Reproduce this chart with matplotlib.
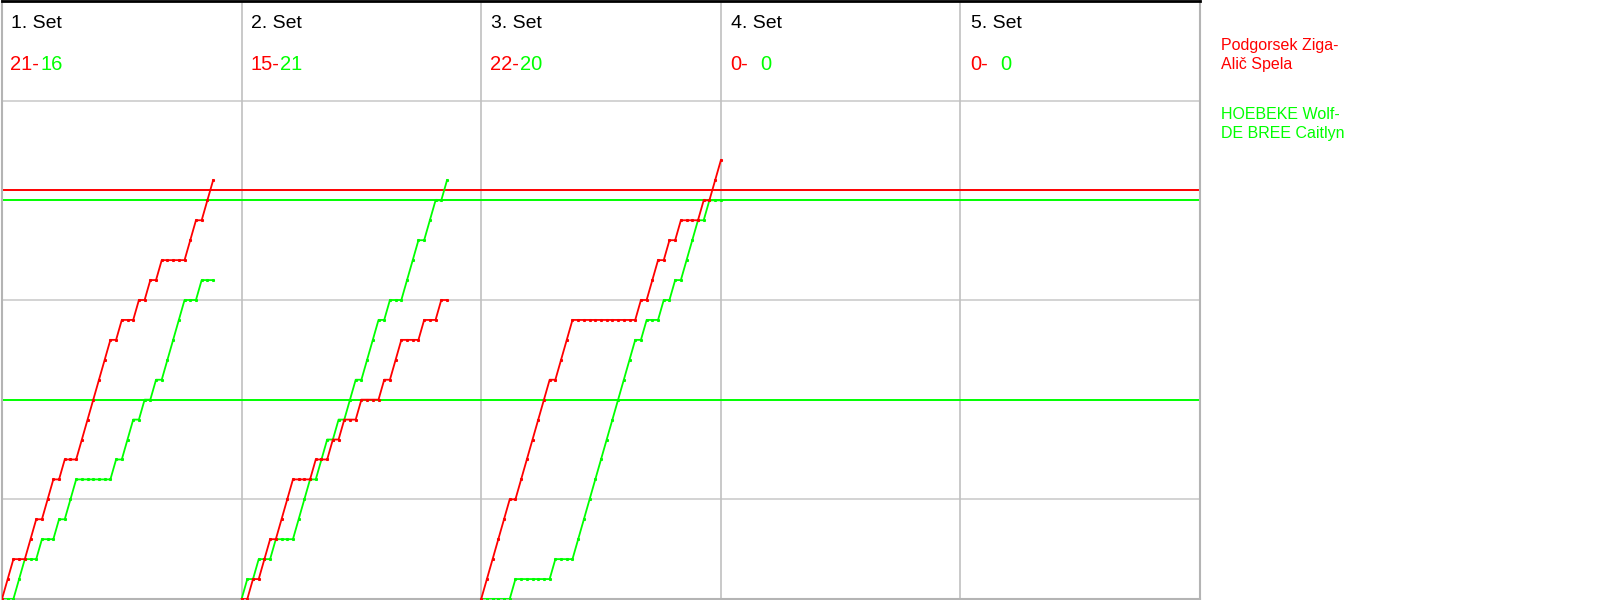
import numpy as np
import matplotlib
matplotlib.use("Agg")
import matplotlib.pyplot as plt

plt.rcParams['font.family'] = ['Liberation Sans', 'DejaVu Sans']

# Rally winners per set: R = Podgorsek/Alič (red), G = HOEBEKE/DE BREE (green)
set1 = "RRGGRRGRRGRGGRRRRRRGRGGRGRGRGGGGRRGRR"
set2 = "GRGRRGRRRGGGRGGRGRGGRGGGRGRRGGGRGGRG"
set3 = "RRRRRGRRRRRRGRRRGGGGGGGGGGGRGRRGRGRGGGRGRR"
sets = [set1, set2, set3, "", ""]
set_labels = ["1. Set", "2. Set", "3. Set", "4. Set", "5. Set"]
red_scores = ["21", "15", "22", "0", "0"]
green_scores = ["16", "21", "20", "0", "0"]
team_red = "Podgorsek Ziga-\nAlič Spela"
team_green = "HOEBEKE Wolf-\nDE BREE Caitlyn"
red_ref = [20.5]
green_ref = [20, 10]
grid_y = [5, 15, 25]

RED = "#ff0000"
GREEN = "#00ff00"

W, H = 1600, 600
fig = plt.figure(figsize=(16, 6), dpi=100)
ax = fig.add_axes([2 / W, 1 / H, 1198 / W, 598 / H])

col_w = max(len(s) for s in sets)  # rallies per column
ncols = len(sets)
ax.set_xlim(0, col_w * ncols)
ax.set_ylim(0, 30)

for gy in grid_y:
    ax.axhline(gy, color="#cccccc", lw=1.2, zorder=1)
for c in range(1, ncols):
    ax.axvline(c * col_w, color="#c0c0c0", lw=1.2, zorder=1)

for ry in red_ref:
    ax.axhline(ry, color=RED, lw=1.4, zorder=2)
for gy in green_ref:
    ax.axhline(gy, color=GREEN, lw=1.4, zorder=2)

for c, seq in enumerate(sets):
    if not seq:
        continue
    arr = np.array(list(seq))
    r = np.concatenate([[0], np.cumsum(arr == "R")])
    g = np.concatenate([[0], np.cumsum(arr == "G")])
    x = c * col_w + np.arange(len(r))
    ax.plot(x, g, color=GREEN, lw=1.3, marker="s", ms=1.2, zorder=3, clip_on=True)
    ax.plot(x, r, color=RED, lw=1.3, marker="s", ms=1.2, zorder=4, clip_on=True)

ax.set_xticks([])
ax.set_yticks([])
for side in ["left", "right", "bottom"]:
    ax.spines[side].set_color("#b4b4b4")
    ax.spines[side].set_linewidth(1.5)
ax.spines["top"].set_color("black")
ax.spines["top"].set_linewidth(2)

col_px = 1200 / ncols
for c in range(ncols):
    x0 = c * col_px
    fig.text((x0 + 11) / W, 1 - 24 / H, set_labels[c], fontsize=14,
             color="black", va="center", ha="left")
    fig.text((x0 + 10) / W, 1 - 65 / H, red_scores[c] + "-", fontsize=14.5,
             color=RED, va="center", ha="left")
    fig.text((x0 + 40) / W, 1 - 65 / H, green_scores[c], fontsize=14.5,
             color=GREEN, va="center", ha="left")

fig.text(1221 / W, 1 - 55 / H, team_red, fontsize=11.5, color=RED,
         va="center", ha="left", linespacing=1.4)
fig.text(1221 / W, 1 - 124 / H, team_green, fontsize=11.5, color=GREEN,
         va="center", ha="left", linespacing=1.4)

fig.savefig("out.png", dpi=100, facecolor="white")
